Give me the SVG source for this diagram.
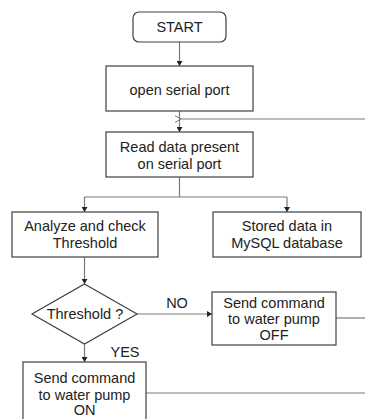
<svg xmlns="http://www.w3.org/2000/svg" width="365" height="419" viewBox="0 0 365 419">
<defs>
<style>
.box{fill:#fff;stroke:#404040;stroke-width:1.2}
.ln{fill:none;stroke:#7a7a7a;stroke-width:1.2}
text{font-family:"Liberation Sans",Arial,sans-serif;font-size:14.5px;fill:#222;text-anchor:middle}
</style>
<marker id="ah" markerWidth="6" markerHeight="6" refX="5" refY="3" orient="auto" markerUnits="userSpaceOnUse">
<path d="M0,0 L5,3 L0,6 Z" fill="#222"/>
</marker>
<marker id="oh" markerWidth="10" markerHeight="10" refX="1" refY="5" orient="auto" markerUnits="userSpaceOnUse">
<path d="M7,1.5 L1,5 L7,8.5" fill="none" stroke="#777" stroke-width="1"/>
</marker>
</defs>
<rect width="365" height="419" fill="#fff"/>
<g id="connectors">
<path class="ln" d="M179.5,42 V66" marker-end="url(#ah)"/>
<path class="ln" d="M179.5,111 V132" marker-end="url(#ah)"/>
<path class="ln" d="M365,119 H181" marker-end="url(#oh)"/>
<path class="ln" d="M179.5,177 V197"/>
<path class="ln" d="M84.5,197 H287"/>
<path class="ln" d="M84.5,197 V212" marker-end="url(#ah)"/>
<path class="ln" d="M287,197 V212" marker-end="url(#ah)"/>
<path class="ln" d="M84.5,257 V284" marker-end="url(#ah)"/>
<path class="ln" d="M137,314 H212" marker-end="url(#ah)"/>
<path class="ln" d="M84.5,344 V362" marker-end="url(#ah)"/>
<path class="ln" d="M336,318 H365"/>
<path class="ln" d="M146,393 H365"/>
<text x="177" y="308">NO</text>
<text x="125" y="357">YES</text>
</g>
<g id="start">
<rect class="box" x="133" y="12" width="93" height="30" rx="6"/>
<text x="179.5" y="32">START</text>
</g>
<g id="open">
<rect class="box" x="106" y="66" width="147" height="45"/>
<text x="179.5" y="95">open serial port</text>
</g>
<g id="read">
<rect class="box" x="106" y="132" width="147" height="45"/>
<text x="179.5" y="152">Read data present</text>
<text x="179.5" y="169">on serial port</text>
</g>
<g id="analyze">
<rect class="box" x="12" y="212" width="146" height="45"/>
<text x="85" y="231">Analyze and check</text>
<text x="85" y="248">Threshold</text>
</g>
<g id="stored">
<rect class="box" x="213" y="212" width="148" height="45"/>
<text x="287" y="231">Stored data in</text>
<text x="287" y="248">MySQL database</text>
</g>
<g id="threshold">
<path class="box" d="M84.5,284 L137,314 L84.5,344 L32,314 Z"/>
<text x="85" y="319">Threshold ?</text>
</g>
<g id="off">
<rect class="box" x="212" y="292" width="124" height="53"/>
<text x="274" y="307.5">Send command</text>
<text x="274" y="324">to water pump</text>
<text x="274" y="340">OFF</text>
</g>
<g id="on">
<rect class="box" x="23" y="362" width="123" height="70"/>
<text x="84.5" y="383">Send command</text>
<text x="84.5" y="399.5">to water pump</text>
<text x="84.5" y="415">ON</text>
</g>
</svg>
